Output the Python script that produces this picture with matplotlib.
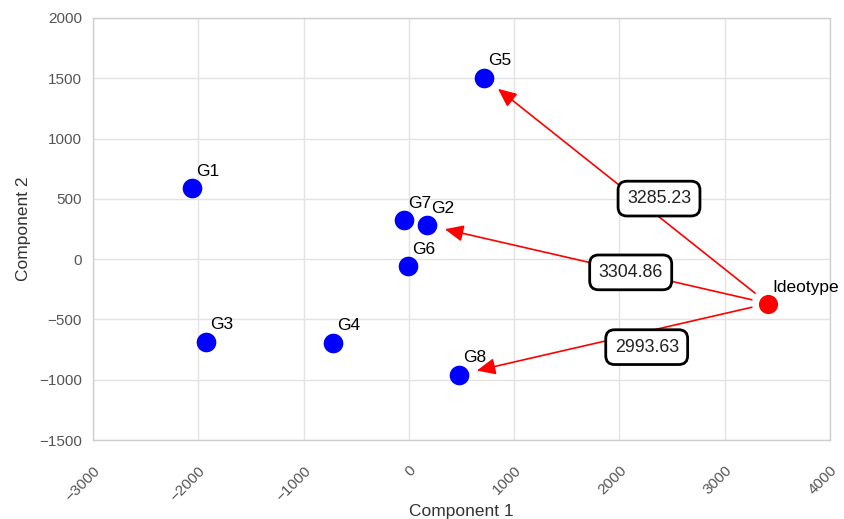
import matplotlib
matplotlib.use("Agg")
import matplotlib.pyplot as plt
import numpy as np

plt.rcParams['font.family'] = ['Liberation Sans', 'DejaVu Sans']

names = ["G1", "G2", "G3", "G4", "G5", "G6", "G7", "G8"]
comp1 = [-2064, 174, -1928, -722, 712, -10, -50, 478]
comp2 = [587, 282, -687, -692, 1506, -58, 324, -958]
ideo_name = "Ideotype"
ideo_x, ideo_y = 3412, -368
arrow_targets = ["G5", "G2", "G8"]
distances = ["3285.23", "3304.86", "2993.63"]

xticks = [-3000, -2000, -1000, 0, 1000, 2000, 3000, 4000]
yticks = [-1500, -1000, -500, 0, 500, 1000, 1500, 2000]

fig = plt.figure(figsize=(8.44, 5.19), dpi=100)
ax = fig.add_axes([93/844, 1-440/519, (830-93)/844, (440-18)/519])

ax.set_xlim(-3000, 4000)
ax.set_ylim(-1500, 2000)
ax.set_xticks(xticks)
ax.set_yticks(yticks)
ax.grid(True, color='#e3e3e3', linewidth=1)
ax.set_axisbelow(True)
for s in ax.spines.values():
    s.set_color('#cfcfcf')
    s.set_linewidth(1)
ax.tick_params(length=0, labelsize=11, labelcolor='#555555')
ax.tick_params(axis='y', pad=8)
ax.tick_params(axis='x', pad=17)
for lab in ax.get_xticklabels():
    lab.set_rotation(45)
    lab.set_ha('right')
    lab.set_va('top')
    lab.set_rotation_mode('anchor')

ax.set_xlabel("Component 1", fontsize=12.5, color='#333333', labelpad=0)
ax.set_ylabel("Component 2", fontsize=12.5, color='#333333', labelpad=6)

ax.scatter(comp1, comp2, s=200, color='#0000ff', zorder=3, linewidths=0)
ax.scatter([ideo_x], [ideo_y], s=190, color='#ff0000', zorder=3, linewidths=0)

for n, x, y in zip(names, comp1, comp2):
    ax.annotate(n, (x, y), xytext=(3, 9), textcoords='offset points',
                ha='left', va='baseline', fontsize=12.5, color='black', zorder=4)
ax.annotate(ideo_name, (ideo_x, ideo_y), xytext=(3, 8.5), textcoords='offset points',
            ha='left', va='baseline', fontsize=12.5, color='black', zorder=4)

for tgt, d in zip(arrow_targets, distances):
    i = names.index(tgt)
    tx, ty = comp1[i], comp2[i]
    ax.annotate("", xy=(tx, ty), xytext=(ideo_x, ideo_y),
                arrowprops=dict(arrowstyle='-|>,head_length=0.45,head_width=0.2',
                                color='#ff0000', lw=1.2, shrinkA=12, shrinkB=13,
                                mutation_scale=25),
                zorder=2)
    mx, my = (tx + ideo_x) / 2, (ty + ideo_y) / 2
    ax.annotate(d, (mx, my), xytext=(23.8, -5.8), textcoords='offset points',
                ha='center', va='center', fontsize=12.8, color='#222222', zorder=5,
                bbox=dict(boxstyle='round,pad=0.5,rounding_size=0.5',
                          fc='white', ec='black', lw=2))

fig.savefig("out.png", dpi=100)
